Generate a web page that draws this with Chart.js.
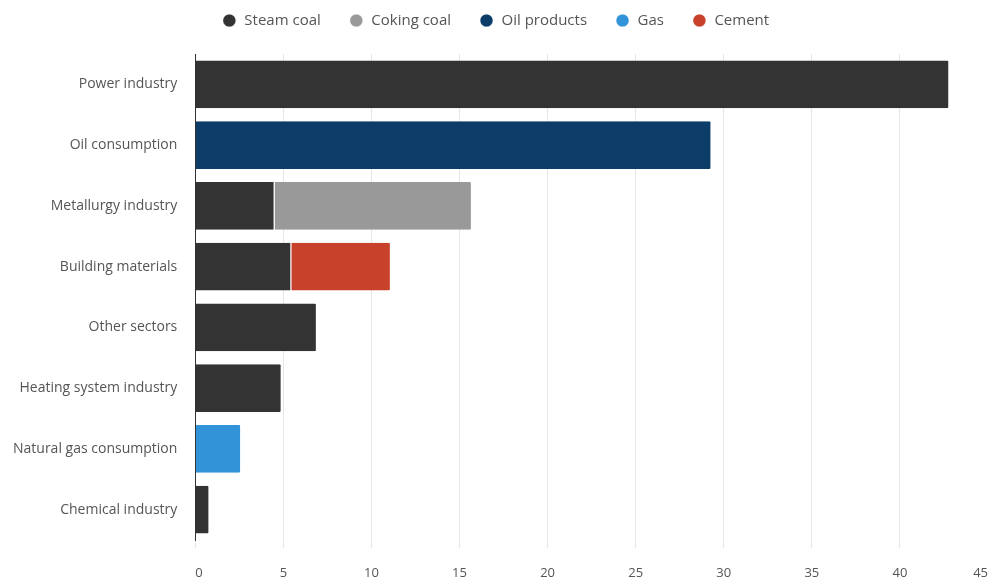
<!DOCTYPE html>
<html>
<head>
<meta charset="utf-8">
<script src="https://cdn.jsdelivr.net/npm/chart.js@4/dist/chart.umd.min.js"></script>
<style>
  html, body { margin: 0; padding: 0; background: #fff; overflow: hidden; }
  #wrap { width: 988px; height: 581px; position: relative; }
  canvas { display: block; }
</style>
</head>
<body>
<div id="wrap"><canvas id="myBarChart"></canvas></div>
<script>
const sectors = ['Power industry', 'Oil consumption', 'Metallurgy industry', 'Building materials',
    'Other sectors', 'Heating system industry', 'Natural gas consumption', 'Chemical industry'];

const steamCoal = [42.8, null, 4.5, 5.45, 6.9, 4.9, null, 0.8];
const cokingCoal = [null, null, 11.2, null, null, null, null, null];
const oilProducts = [null, 29.3, null, null, null, null, null, null];
const gas = [null, null, null, null, null, null, 2.6, null];
const cement = [null, null, null, 5.65, null, null, null, null];

Chart.defaults.font.family = '"Open Sans", sans-serif';
Chart.defaults.font.size = 13;
Chart.defaults.color = '#555';

const ctx = document.getElementById('myBarChart').getContext('2d');

function series(label, values, color) {
    return {
        label: label,
        data: values,
        backgroundColor: color,
        borderColor: '#fff',
        borderWidth: { right: 1 },
        borderSkipped: 'start',
        borderRadius: 2,
        barPercentage: 0.79,
        categoryPercentage: 1
    };
}

// add some room under the legend so the plot starts where the reference does
const legendGap = {
    id: 'legendGap',
    beforeInit(chart) {
        const fit = chart.legend.fit;
        chart.legend.fit = function () {
            fit.call(this);
            this.height += 16;
        };
    }
};

const myBarChart = new Chart(ctx, {
    type: 'bar',
    data: {
        labels: sectors,
        datasets: [
            series('Steam coal', steamCoal, '#333333'),
            series('Coking coal', cokingCoal, '#999999'),
            series('Oil products', oilProducts, '#0c3d69'),
            series('Gas', gas, '#3393d8'),
            series('Cement', cement, '#c8412a')
        ]
    },
    options: {
        indexAxis: 'y',
        responsive: true,
        maintainAspectRatio: false,
        animation: false,
        layout: { padding: { left: 3, right: 0, top: -15, bottom: 0 } },
        plugins: {
            legend: {
                display: true,
                position: 'top',
                labels: {
                    usePointStyle: true,
                    pointStyle: 'circle',
                    boxWidth: 15,
                    boxHeight: 9,
                    padding: 28,
                    font: { size: 15 }
                }
            },
            tooltip: { enabled: false }
        },
        scales: {
            x: {
                stacked: true,
                min: 0,
                max: 45,
                ticks: { stepSize: 5, padding: 17, align: 'inner' },
                grid: { color: '#e6e6e6', drawTicks: true, tickLength: 8 },
                border: { display: false },
                afterFit(scale) {
                    scale.paddingRight = 0;
                    scale.height = 41;
                }
            },
            y: {
                stacked: true,
                ticks: { padding: 10, font: { size: 14 } },
                grid: { display: false },
                border: { display: true, color: '#333', width: 1 }
            }
        }
    },
    plugins: [legendGap]
});
</script>
</body>
</html>
